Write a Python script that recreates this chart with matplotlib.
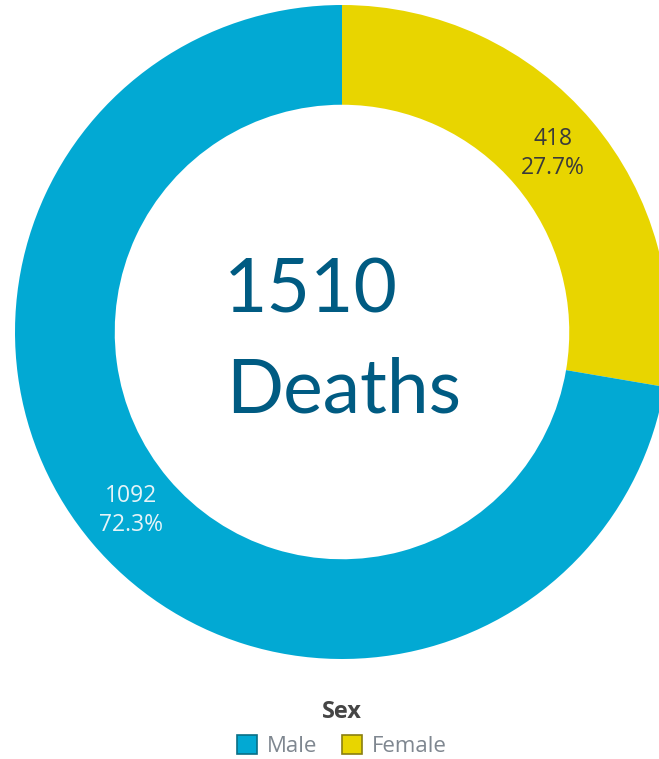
import matplotlib
matplotlib.use('Agg')
import matplotlib.pyplot as plt
from matplotlib.patches import Patch
import math

# Datos
sexes = ['Female', 'Male']
deaths = [418, 1092]
colors = ['#E8D500', '#02A9D3']
total_label = '1510'
center_word = 'Deaths'
legend_title = 'Sex'
legend_order = ['Male', 'Female']

W, H = 659, 759
fig = plt.figure(figsize=(W / 100, H / 100), dpi=100)
fig.patch.set_facecolor('white')

# Ejes en pixeles: centro (342, 332), radio 327
cx, cy, R = 342, 332, 327
ax = fig.add_axes([(cx - R) / W, (H - cy - R) / H, 2 * R / W, 2 * R / H])

total = sum(deaths)
wedges, _ = ax.pie(deaths, colors=colors, startangle=90, counterclock=False,
                   radius=1.0, wedgeprops=dict(width=0.305, linewidth=0))
ax.set_xlim(-1, 1)
ax.set_ylim(-1, 1)
ax.set_aspect('equal')
ax.axis('off')

# Etiquetas dentro del anillo
label_colors = ['#3A3A3A', '#E6F4F8']
for w, v, lc in zip(wedges, deaths, label_colors):
    mid = math.radians((w.theta1 + w.theta2) / 2)
    r = 0.845
    ax.text(r * math.cos(mid), r * math.sin(mid),
            f'{v}\n{v / total * 100:.1f}%', ha='center', va='center',
            fontsize=16.5, family='Open Sans', color=lc, linespacing=1.3)

# Texto central
fig.text(224 / W, 1 - 312 / H, total_label, fontsize=54, family='Lato',
         color='#005B82', ha='left', va='baseline')
fig.text(226 / W, 1 - 412 / H, center_word, fontsize=54, family='Lato',
         color='#005B82', ha='left', va='baseline')

# Leyenda
fig.text(cx / W, 1 - 712 / H, legend_title, fontsize=17, family='Open Sans',
         weight='bold', color='#454545', ha='center', va='center')
edge = {'Male': '#0A6F86', 'Female': '#8A7F10'}
fill = dict(zip(sexes, colors))
handles = [Patch(facecolor=fill[s], edgecolor=edge[s], linewidth=1.2, label=s)
           for s in legend_order]
leg = fig.legend(handles=handles, loc='center', bbox_to_anchor=(cx / W, 1 - 746 / H),
                 ncol=2, frameon=False,
                 prop={'family': 'Open Sans', 'size': 16},
                 handlelength=0.9, handleheight=0.9, handletextpad=0.45,
                 columnspacing=1.1, borderpad=0, labelspacing=0)
for t in leg.get_texts():
    t.set_color('#7F8790')

fig.savefig('out.png', dpi=100, facecolor=fig.get_facecolor())
plt.close(fig)
